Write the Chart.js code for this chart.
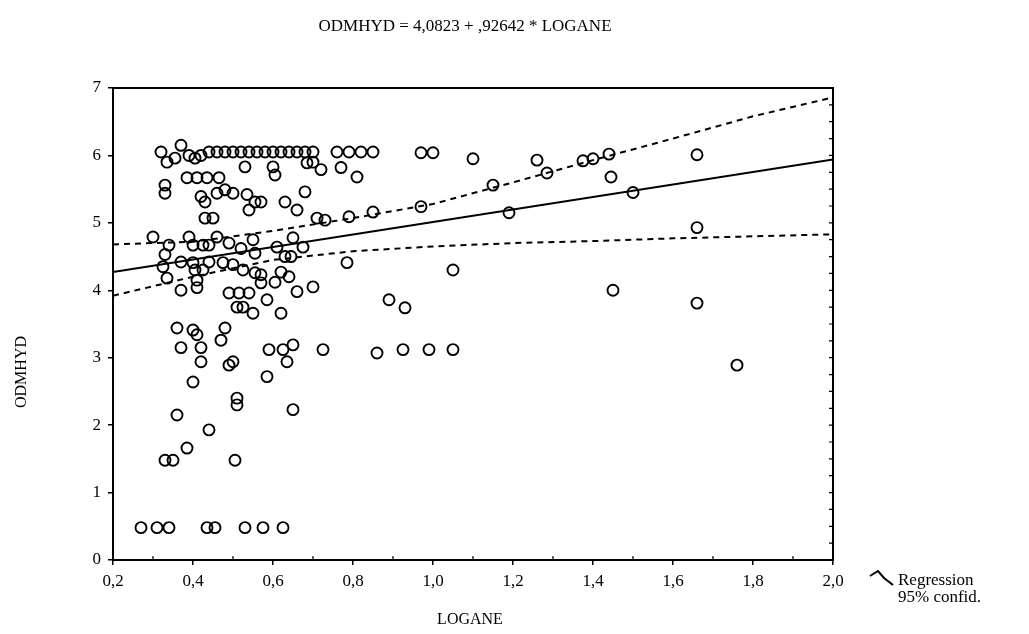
<!DOCTYPE html>
<html>
<head>
<meta charset="utf-8">
<script src="https://cdn.jsdelivr.net/npm/chart.js@4.4.1/dist/chart.umd.min.js"></script>
<style>
  body { margin: 0; background: #fff; }
  #wrap { width: 1029px; height: 634px; }
</style>
</head>
<body>
<div id="wrap"><canvas id="myChart"></canvas></div>
<script>
// scatter values (LOGANE, ODMHYD)
var logane = [
  0.32, 0.37, 0.39, 0.42, 0.44, 0.46, 0.48, 0.50, 0.52, 0.54, 0.56, 0.58, 0.60, 0.62, 0.64, 0.66, 0.68, 0.70, 0.76, 0.79, 0.82, 0.85, 0.97, 1.00, 1.10, 1.26, 1.375, 1.40, 1.44, 1.66,
  0.335, 0.355, 0.405, 0.53, 0.60, 0.605, 0.685, 0.70, 0.72, 0.77, 0.81, 0.33, 0.33, 0.385, 0.41, 0.435, 0.465, 1.15, 1.285, 1.445, 1.50,
  0.42, 0.43, 0.46, 0.48, 0.50, 0.535, 0.555, 0.54, 0.57, 0.63, 0.66, 0.68, 0.43, 0.45, 0.71, 0.73, 0.79, 0.85, 0.97, 1.19,
  0.30, 0.34, 0.39, 0.40, 0.425, 0.44, 0.46, 0.49, 0.33, 0.555, 0.61, 0.65, 0.675, 0.63, 0.645, 1.66, 0.52, 0.55,
  0.325, 0.37, 0.40, 0.425, 0.44, 0.475, 0.50, 0.525, 0.555, 0.57, 0.57, 0.605, 0.62, 0.64, 0.785, 1.05, 0.335, 0.37, 0.405, 0.41, 0.41, 0.66, 0.70, 1.45,
  0.49, 0.515, 0.54, 0.51, 0.525, 0.55, 0.585, 0.62, 0.89, 0.93, 1.66,
  0.36, 0.40, 0.41, 0.48, 0.47, 0.37, 0.42, 0.59, 0.625, 0.65, 0.725, 0.86, 0.925, 0.99, 1.05,
  0.42, 0.49, 0.50, 0.635, 0.40, 0.585, 0.51, 0.51, 0.36, 0.65, 1.76,
  0.44, 0.385, 0.33, 0.35, 0.505,
  0.27, 0.31, 0.34, 0.435, 0.455, 0.53, 0.575, 0.625
];
var odmhyd = [
  6.05, 6.15, 6.0, 6.0, 6.05, 6.05, 6.05, 6.05, 6.05, 6.05, 6.05, 6.05, 6.05, 6.05, 6.05, 6.05, 6.05, 6.05, 6.05, 6.05, 6.05, 6.05, 6.04, 6.04, 5.95, 5.93, 5.92, 5.95, 6.02, 6.01,
  5.9, 5.96, 5.96, 5.83, 5.83, 5.71, 5.89, 5.9, 5.79, 5.82, 5.68, 5.56, 5.44, 5.67, 5.67, 5.67, 5.67, 5.56, 5.74, 5.68, 5.45,
  5.39, 5.31, 5.44, 5.49, 5.44, 5.42, 5.31, 5.19, 5.31, 5.31, 5.19, 5.46, 5.07, 5.07, 5.07, 5.04, 5.09, 5.16, 5.24, 5.15,
  4.79, 4.67, 4.79, 4.67, 4.67, 4.67, 4.79, 4.70, 4.53, 4.55, 4.64, 4.78, 4.64, 4.50, 4.50, 4.93, 4.62, 4.75,
  4.35, 4.42, 4.41, 4.30, 4.42, 4.41, 4.38, 4.30, 4.26, 4.23, 4.11, 4.12, 4.27, 4.20, 4.41, 4.30, 4.18, 4.0, 4.30, 4.15, 4.04, 3.98, 4.05, 4.0,
  3.96, 3.96, 3.96, 3.75, 3.75, 3.66, 3.86, 3.66, 3.86, 3.74, 3.81,
  3.44, 3.41, 3.34, 3.44, 3.26, 3.15, 3.15, 3.12, 3.12, 3.19, 3.12, 3.07, 3.12, 3.12, 3.12,
  2.94, 2.89, 2.94, 2.94, 2.64, 2.72, 2.40, 2.30, 2.15, 2.23, 2.89,
  1.93, 1.66, 1.48, 1.48, 1.48,
  0.48, 0.48, 0.48, 0.48, 0.48, 0.48, 0.48, 0.48
];

// regression line ODMHYD = 4,0823 + ,92642 * LOGANE, ends of the axis
var regX = [0.2, 2.0];
var regY = [4.27, 5.94];

// 95% confidence band
var confX = [0.2, 0.4, 0.6, 0.8, 1.0, 1.2, 1.4, 1.6, 1.8, 2.0];
var upperY = [4.68, 4.72, 4.88, 5.07, 5.28, 5.60, 5.93, 6.25, 6.58, 6.86];
var lowerY = [3.92, 4.20, 4.45, 4.58, 4.65, 4.70, 4.73, 4.77, 4.80, 4.83];

var xTicks = [0.2, 0.4, 0.6, 0.8, 1.0, 1.2, 1.4, 1.6, 1.8, 2.0];
var yTicks = [0, 1, 2, 3, 4, 5, 6, 7];

var titleText = 'ODMHYD = 4,0823 + ,92642 * LOGANE';
var serif = '"Liberation Serif", "DejaVu Serif", serif';

function pairs(xs, ys) {
  return xs.map(function (v, i) { return { x: v, y: ys[i] }; });
}

// frame, minor ticks, titles and legend
var decor = {
  id: 'decor',
  afterDraw: function (chart) {
    var c = chart.ctx;
    var a = chart.chartArea;
    var xs = chart.scales.x;
    var ys = chart.scales.y;
    c.save();
    c.strokeStyle = '#000';
    c.lineWidth = 2;
    c.strokeRect(a.left, a.top, a.right - a.left, a.bottom - a.top);

    // small inner ticks
    c.lineWidth = 1.2;
    c.beginPath();
    for (var v = 0.25; v < 7; v += 0.25) {
      var py = ys.getPixelForValue(v);
      c.moveTo(a.right, py);
      c.lineTo(a.right - 4, py);
    }
    for (var u = 0.3; u < 2.0; u += 0.2) {
      var px = xs.getPixelForValue(u);
      c.moveTo(px, a.bottom);
      c.lineTo(px, a.bottom - 4);
    }
    c.stroke();

    c.fillStyle = '#000';
    c.font = '17px ' + serif;
    c.textAlign = 'center';
    c.textBaseline = 'middle';
    c.fillText(titleText, 465, 27);
    c.font = '16px ' + serif;
    c.fillText('LOGANE', 470, 620);

    c.save();
    c.translate(22, 372);
    c.rotate(-Math.PI / 2);
    c.fillText('ODMHYD', 0, 0);
    c.restore();

    // legend
    c.lineWidth = 2;
    c.beginPath();
    c.moveTo(870, 576);
    c.lineTo(878, 571);
    c.lineTo(884, 578);
    c.lineTo(893, 585);
    c.stroke();
    c.font = '17px ' + serif;
    c.textAlign = 'left';
    c.fillText('Regression', 898, 581);
    c.fillText('95% confid.', 898, 598);
    c.restore();
  }
};

var ctx = document.getElementById('myChart').getContext('2d');
var chart = new Chart(ctx, {
  type: 'scatter',
  data: {
    datasets: [{
        label: 'ODMHYD',
        data: pairs(logane, odmhyd),
        pointRadius: 5.5,
        pointBorderWidth: 1.9,
        borderColor: '#000',
        backgroundColor: 'rgba(0,0,0,0)'
      },
      {
        label: 'Regression',
        data: pairs(regX, regY),
        showLine: true,
        pointRadius: 0,
        borderColor: '#000',
        borderWidth: 2
      },
      {
        label: 'upper',
        data: pairs(confX, upperY),
        showLine: true,
        pointRadius: 0,
        borderColor: '#000',
        borderWidth: 2,
        borderDash: [6, 5]
      },
      {
        label: 'lower',
        data: pairs(confX, lowerY),
        showLine: true,
        pointRadius: 0,
        borderColor: '#000',
        borderWidth: 2,
        borderDash: [6, 5]
      }
    ]
  },
  options: {
    responsive: true,
    maintainAspectRatio: false,
    animation: false,
    layout: { padding: { left: 0, right: 196, top: 88, bottom: 0 } },
    plugins: {
      legend: { display: false },
      tooltip: { enabled: false }
    },
    scales: {
      x: {
        type: 'linear',
        min: 0.2,
        max: 2.0,
        afterFit: function (s) { s.height = 74; },
        afterBuildTicks: function (s) {
          s.ticks = xTicks.map(function (v) { return { value: v }; });
        },
        ticks: {
          color: '#000',
          padding: 6,
          maxRotation: 0,
          font: { family: serif, size: 17 },
          callback: function (v) { return Number(v).toFixed(1).replace('.', ','); }
        },
        grid: { drawOnChartArea: false, tickLength: 5, color: '#000', lineWidth: 1.5 },
        border: { color: '#000', width: 2 }
      },
      y: {
        type: 'linear',
        min: 0,
        max: 7,
        afterFit: function (s) { s.width = 113; },
        afterBuildTicks: function (s) {
          s.ticks = yTicks.map(function (v) { return { value: v }; });
        },
        ticks: {
          color: '#000',
          padding: 7,
          font: { family: serif, size: 17 },
          callback: function (v) { return String(v); }
        },
        grid: { drawOnChartArea: false, tickLength: 5, color: '#000', lineWidth: 1.5 },
        border: { color: '#000', width: 2 }
      }
    }
  },
  plugins: [decor]
});
</script>
</body>
</html>
